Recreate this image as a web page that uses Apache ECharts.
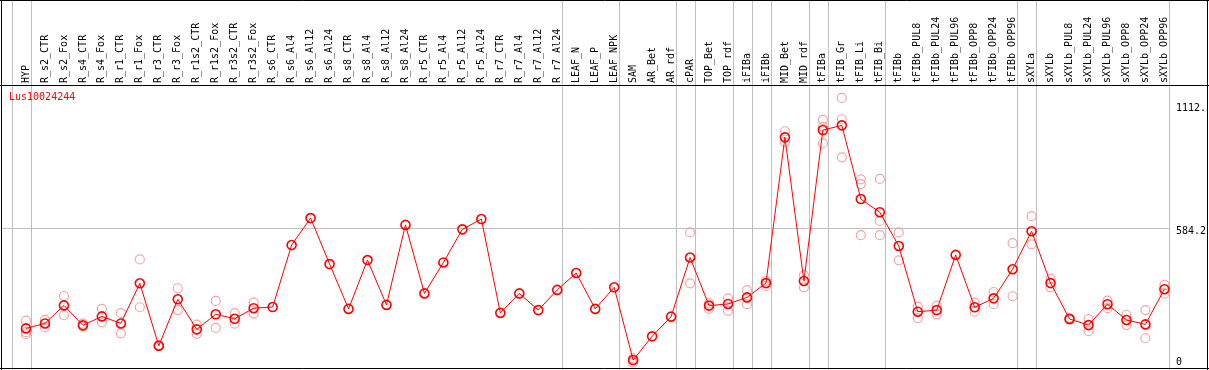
<!DOCTYPE html>
<html>
<head>
<meta charset="utf-8">
<script src="https://cdn.jsdelivr.net/npm/echarts@6.0.0/dist/echarts.min.js"></script>
<style>
html,body{margin:0;padding:0;background:#fff;}
#chart{width:1209px;height:370px;}
</style>
</head>
<body>
<div id="chart"></div>
<script>
const seriesName = 'Lus10024244';
const categories = ['HYP','R_s2_CTR','R_s2_Fox','R_s4_CTR','R_s4_Fox','R_r1_CTR','R_r1_Fox','R_r3_CTR','R_r3_Fox','R_r1s2_CTR','R_r1s2_Fox','R_r3s2_CTR','R_r3s2_Fox','R_s6_CTR','R_s6_Al4','R_s6_Al12','R_s6_Al24','R_s8_CTR','R_s8_Al4','R_s8_Al12','R_s8_Al24','R_r5_CTR','R_r5_Al4','R_r5_Al12','R_r5_Al24','R_r7_CTR','R_r7_Al4','R_r7_Al12','R_r7_Al24','LEAF_N','LEAF_P','LEAF_NPK','SAM','AR_Bet','AR_rdf','cPAR','TOP_Bet','TOP_rdf','iFIBa','iFIBb','MID_Bet','MID_rdf','tFIBa','tFIB_Gr','tFIB_Li','tFIB_Bi','tFIBb','tFIBb_PUL8','tFIBb_PUL24','tFIBb_PUL96','tFIBb_OPP8','tFIBb_OPP24','tFIBb_OPP96','sXYLa','sXYLb','sXYLb_PUL8','sXYLb_PUL24','sXYLb_PUL96','sXYLb_OPP8','sXYLb_OPP24','sXYLb_OPP96'];
// sizes of the sample groups (separated by vertical grey lines)
const groupSizes = [1,28,3,3,1,2,1,1,2,1,3,7,1,7];
const meanValues = [156,177,254,169,207,177,348,82,280,152,216,197,242,247,511,626,430,239,447,256,597,305,437,578,622,222,305,234,320,392,239,331,21,122,206,458,253,260,288,349,970,358,1001,1021,707,651,507,227,234,469,246,284,408,570,349,196,170,259,192,173,323];
const replicateValues = [
  [189,140,131],[192,161],[294,212],[176,163],[239,182],[221,135],[450,246],[84,80],[327,234],[172,133],
  [273,158],[221,176],[266,220],[],[],[],[],[],[],[],
  [],[],[],[],[],[],[],[],[],[],
  [],[],[28,10],[],[],[565,348],[263,239],[284,231],[319,259],[337,358],
  [996,950],[383,331],[1044,1015,944],[1138,1047,885],[791,771,553],[793,614,553],[565,446],[249,200],[253,216],[],
  [266,227],[311,259],[519,293],[634,514],[368,331],[200,193],[196,144],[274,242],[214,170],[234,114],
  [342,304]
];
const yTickValues = [0, 584.2, 1112];
const yTickLabels = ['0', '584.2', '1112.'];
const referenceLine = 584.2;

const FONT = 'DejaVu Sans Mono';
const repData = [];
replicateValues.forEach((arr, i) => arr.forEach(v => repData.push([categories[i], v])));

const chart = echarts.init(document.getElementById('chart'), null, {renderer: 'canvas'});
const option = {
  animation: false,
  backgroundColor: '#fff',
  title: {
    text: seriesName, left: 9, top: 92, padding: 0,
    textStyle: {color: '#ff0000', fontSize: 10, fontWeight: 'normal', fontFamily: FONT}
  },
  grid: {left: 16.5, right: 32.9, top: 85, bottom: 5, containLabel: false},
  xAxis: {
    type: 'category', data: categories, position: 'top', boundaryGap: true,
    axisLine: {show: false}, axisTick: {show: false}, splitLine: {show: false},
    axisLabel: {interval: 0, rotate: 90, margin: 2, fontSize: 10, fontFamily: FONT, color: '#000'}
  },
  yAxis: {
    type: 'value', min: 0, max: 1193, position: 'right',
    axisLine: {show: false}, axisTick: {show: false}, splitLine: {show: false},
    axisLabel: {
      customValues: yTickValues, margin: 2, align: 'left', fontSize: 10, fontFamily: FONT, color: '#000',
      formatter: function (v) {
        const k = yTickValues.indexOf(v);
        const t = k >= 0 ? yTickLabels[k] : '';
        if (v === 0) return '{b|' + t + '}';
        return '{a|' + t + '}';
      },
      rich: {
        a: {fontSize: 10, fontFamily: FONT, color: '#000', padding: [8, 0, 0, 0]},
        b: {fontSize: 10, fontFamily: FONT, color: '#000', padding: [0, 0, 6, 0]}
      }
    }
  },
  series: [
    {
      name: 'replicates', type: 'scatter', data: repData, symbol: 'circle', symbolSize: 9, z: 2,
      itemStyle: {color: 'rgba(0,0,0,0)', borderColor: '#f09090', borderWidth: 1.2},
      silent: true, clip: false
    },
    {
      name: seriesName, type: 'line', data: meanValues, symbol: 'circle', symbolSize: 9, z: 3,
      lineStyle: {color: '#ff0000', width: 1},
      itemStyle: {color: 'rgba(0,0,0,0)', borderColor: '#ff0000', borderWidth: 1.6},
      silent: true, clip: false
    }
  ]
};
chart.setOption(option);

// grid decorations computed through the library's scales
const W = 1209, H = 370;
const gray = '#c0c0c0';
const px = i => chart.convertToPixel({xAxisIndex: 0}, categories[i]);
const step = px(1) - px(0);
const sepOffset = step * 0.25;
const graphics = [];
const boundaries = [-1];
let acc = 0;
groupSizes.forEach(s => { acc += s; boundaries.push(acc - 1); });
boundaries.forEach(b => {
  const x = Math.round((b >= 0 ? px(b) : px(0) - step) + sepOffset) + 0.5;
  graphics.push({type: 'line', silent: true, z: 1, shape: {x1: x, y1: 0, x2: x, y2: H}, style: {stroke: gray, lineWidth: 1}});
});
const yRef = Math.round(chart.convertToPixel({yAxisIndex: 0}, referenceLine)) + 0.5;
const xLast = Math.round(px(categories.length - 1) + sepOffset) + 0.5;
graphics.push({type: 'line', silent: true, z: 1, shape: {x1: 1, y1: yRef, x2: xLast, y2: yRef}, style: {stroke: gray, lineWidth: 1}});
// black frame
const black = '#000';
[[0, 0.5, W, 0.5], [0, 85.5, W, 85.5], [0, 368.5, W, 368.5], [1.5, 0, 1.5, H], [1207.5, 0, 1207.5, H]].forEach(l => {
  graphics.push({type: 'line', silent: true, z: 10, shape: {x1: l[0], y1: l[1], x2: l[2], y2: l[3]}, style: {stroke: black, lineWidth: 1}});
});
chart.setOption({graphic: graphics});
</script>
</body>
</html>
